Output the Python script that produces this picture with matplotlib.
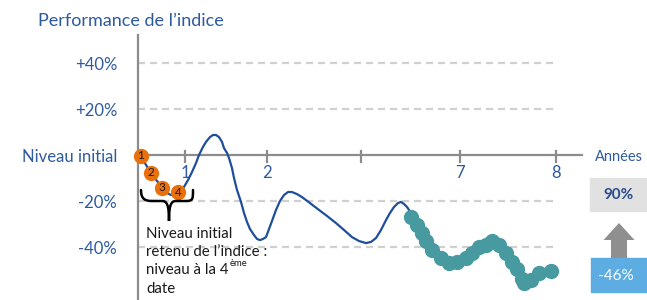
import matplotlib
matplotlib.use("Agg")
import matplotlib.pyplot as plt
from matplotlib.path import Path
from matplotlib.patches import PathPatch, FancyArrow, Rectangle

# ---------------- data (x: schematic time units, y: performance in %) ----------------
curve_x = [0.2, 0.8, 1.3, 1.9, 2.4, 2.9, 3.3, 3.7, 4.1, 4.6, 5.0, 5.4, 5.8, 6.1, 6.5, 6.8,
           7.2, 7.5, 7.8, 8.1, 8.4, 8.6, 8.9, 9.1, 9.4, 9.6, 9.9, 10.3, 10.6, 10.9, 11.2,
           11.6, 11.9, 12.2, 12.5, 12.8, 13.1, 13.4, 13.8, 14.2, 14.6, 15.0, 15.4, 15.9,
           16.4, 17.2, 18.1, 18.9, 19.8, 20.6, 21.4, 22.1, 22.8, 23.3, 23.8, 24.3, 24.8,
           25.2, 25.6, 26.0, 26.3, 26.6, 26.9, 27.3]
curve_y = [0, -4.3, -7.8, -11.3, -13.9, -16.5, -17.4, -17.4, -16.5, -13.9, -10.9, -7.4,
           -3.5, 0, 3.5, 5.7, 7.8, 8.7, 8.7, 7.8, 5.7, 3.0, 0.9, -1.3, -5.7, -10.0, -15.2,
           -20.4, -25.2, -29.1, -32.2, -34.8, -36.5, -37.0, -36.5, -35.7, -32.2, -28.7,
           -23.9, -20.0, -17.4, -16.1, -16.1, -17.0, -18.3, -20.9, -23.9, -26.5, -29.6,
           -32.6, -35.7, -37.4, -38.3, -37.8, -36.1, -32.6, -28.3, -25.2, -22.6, -20.9,
           -20.4, -21.3, -22.6, -25.2]

obs_x = [27.3, 27.9, 28.4, 28.8, 29.4, 30.3, 31.1, 31.9, 32.8, 33.4, 34.1, 34.8,
         35.4, 36.1, 36.8, 37.4, 37.9, 38.4, 38.6, 39.3, 40.1, 41.3]
obs_y = [-27.0, -30.4, -33.9, -37.4, -41.3, -44.8, -47.0, -46.5, -44.8, -42.6, -40.0,
         -39.1, -37.4, -39.1, -42.6, -46.5, -49.6, -53.9, -55.7, -54.3, -51.3, -50.4]

init_x = [0.3, 1.3, 2.4, 4.0]
init_y = [-0.4, -7.8, -14.3, -16.1]
init_labels = ["1", "2", "3", "4"]

xtick_pos = [4.7, 12.9, 22.3, 32.2, 41.8]
xtick_labels = ["1", "2", "", "7", "8"]

grid_levels = [40, 20, -20, -40]
ytick_pos = [40, 20, 0, -20, -40]
ytick_labels = ["+40%", "+20%", "Niveau initial", "-20%", "-40%"]

target_value = "90%"
final_value = "-46%"

# ---------------- style ----------------
FONT = "Lato"
BLUE_TXT = "#2E5AA0"
LINE_BLUE = "#1F4E9B"
TEAL = "#479AA0"
ORANGE = "#E8700D"
AXIS_GRAY = "#8C8C8C"
GRID_GRAY = "#D0D0D0"

W, H = 647, 300
fig = plt.figure(figsize=(W / 100, H / 100), dpi=100)

def fx(px):
    return px / W

def fy(py):
    return 1 - py / H

# axes area: left spine at px 138, zero line at py 155, 2.3 px per %
x0_px, x1_px = 138, 582
top_px, bot_px = 35, 300
ax = fig.add_axes([fx(x0_px), fy(bot_px), (x1_px - x0_px) / W, (bot_px - top_px) / H])
ax.set_xlim(0, (x1_px - x0_px) / 10)
ax.set_ylim((155 - bot_px) / 2.3, (155 - top_px) / 2.3)
ax.patch.set_alpha(0)
for s in ["top", "right", "bottom"]:
    ax.spines[s].set_visible(False)
ax.spines["left"].set_color(AXIS_GRAY)
ax.spines["left"].set_linewidth(1.6)
ax.set_xticks([])
ax.set_yticks(ytick_pos)
ax.set_yticklabels(ytick_labels)
ax.tick_params(axis="y", length=0, pad=15, labelcolor=BLUE_TXT, labelsize=12)
for lab in ax.get_yticklabels():
    lab.set_fontfamily(FONT)
    if lab.get_text() == "Niveau initial":
        lab.set_y(2)

# gridlines
for g in grid_levels:
    ax.plot([0, 41.6], [g, g], color=GRID_GRAY, lw=1.6, ls=(0, (3.2, 2.2)), zorder=1)

# zero axis line and ticks
ax.plot([0, (x1_px - x0_px) / 10], [0, 0], color=AXIS_GRAY, lw=1.6, zorder=2, clip_on=False)
for xp, lab in zip(xtick_pos, xtick_labels):
    ax.plot([xp, xp], [1.8, -3.2], color=AXIS_GRAY, lw=1.6, zorder=2)
    if lab:
        ax.text(xp, -7.8, lab, ha="center", va="center", color=BLUE_TXT,
                fontsize=12, family=FONT, zorder=2)

# curve
ax.plot(curve_x, curve_y, color=LINE_BLUE, lw=1.6, zorder=3, solid_capstyle="round")
# observation dots
ax.plot(obs_x, obs_y, ls="none", marker="o", ms=11, color=TEAL, mec="none", zorder=4)
# initial observation dates
ax.plot(init_x, init_y, ls="none", marker="o", ms=11, color=ORANGE, mec="none",
        zorder=5, clip_on=False)
for xi, yi, lab in zip(init_x, init_y, init_labels):
    ax.text(xi, yi, lab, ha="center", va="center", fontsize=8.5, family=FONT,
            color="#1a1a1a", zorder=6)

# curly brace under the initial dates
def P(px, py):
    return ((px - x0_px) / 10, (155 - py) / 2.3)

verts = [P(141, 190), P(141, 199), P(145, 201), P(152, 201),
         P(162, 201),
         P(167, 201), P(169, 205), P(169, 221),
         P(169, 205), P(171, 201), P(176, 201),
         P(186, 201),
         P(193, 201), P(193, 199), P(193, 190)]
codes = [Path.MOVETO, Path.CURVE4, Path.CURVE4, Path.CURVE4,
         Path.LINETO,
         Path.CURVE4, Path.CURVE4, Path.CURVE4,
         Path.CURVE4, Path.CURVE4, Path.CURVE4,
         Path.LINETO,
         Path.CURVE4, Path.CURVE4, Path.CURVE4]
ax.add_patch(PathPatch(Path(verts, codes), fill=False, lw=1.8, color="black",
                       zorder=5, capstyle="round"))

# annotation text block
txt_kw = dict(fontsize=10.8, family=FONT, color="#1a1a1a", va="center", ha="left")
fig.text(fx(146), fy(234), "Niveau initial", **txt_kw)
fig.text(fx(146), fy(252), "retenu de l\u2019indice :", **txt_kw)
t4 = fig.text(fx(146), fy(270), "niveau \u00e0 la 4", **txt_kw)
fig.text(fx(146), fy(289), "date", **txt_kw)
fig.canvas.draw()
bb = t4.get_window_extent(fig.canvas.get_renderer())
fig.text(bb.x1 / W + 0.001, fy(264), "\u00e8me", fontsize=6.8, family=FONT,
         color="#1a1a1a", va="center", ha="left")

# title and axis names
fig.text(fx(38), fy(21), "Performance de l\u2019indice", fontsize=13, family=FONT,
         color=BLUE_TXT, va="center", ha="left")
fig.text(fx(619), fy(157), "Ann\u00e9es", fontsize=10.5, family=FONT,
         color=BLUE_TXT, va="center", ha="center")

# right side boxes with arrow
fig.patches.append(Rectangle((fx(590), fy(211)), (W - 590) / W, 33 / H,
                             transform=fig.transFigure, color="#E1E1E1", zorder=1))
fig.text(fx(618), fy(195), target_value, fontsize=11, family=FONT, weight="bold",
         color="#2B4C8C", ha="center", va="center")
fig.patches.append(FancyArrow(fx(619), fy(258), 0, (258 - 223) / H, width=16 / W,
                              head_width=31 / W, head_length=17 / H,
                              length_includes_head=True, transform=fig.transFigure,
                              color="#8F8F8F", lw=0))
fig.patches.append(Rectangle((fx(591), fy(292)), (W - 591) / W, 34 / H,
                             transform=fig.transFigure, color="#5DADE2", zorder=1))
fig.text(fx(616), fy(276), final_value, fontsize=11, family=FONT,
         color="white", ha="center", va="center")

fig.savefig("out.png", dpi=100)
